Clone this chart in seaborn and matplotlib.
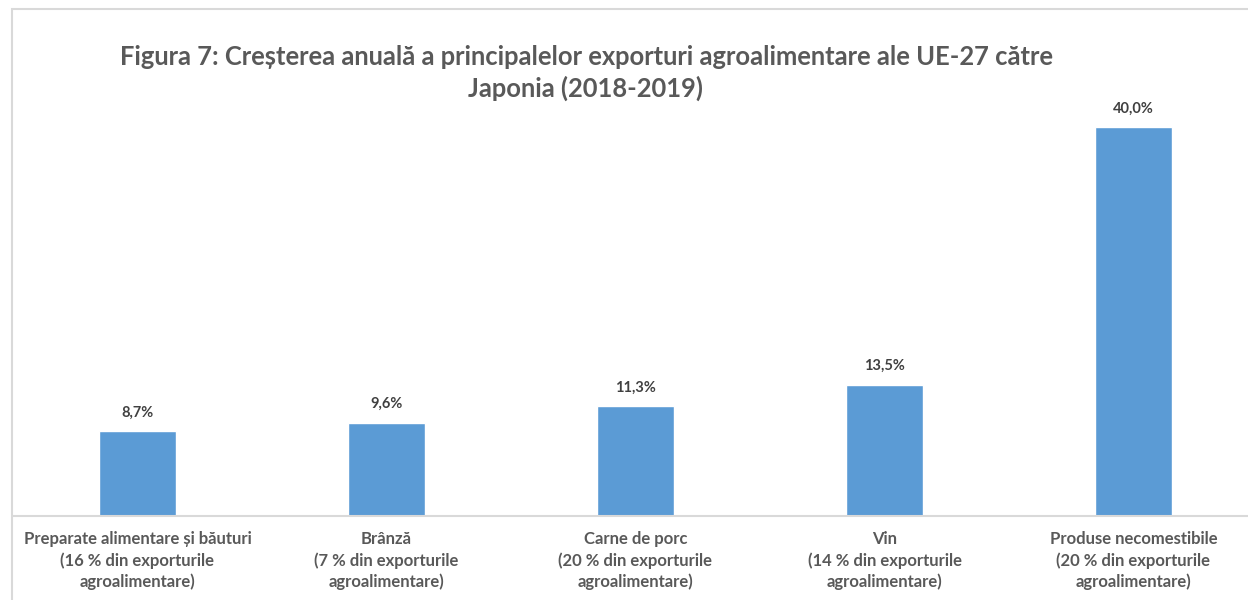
import matplotlib
matplotlib.use("Agg")
import matplotlib.pyplot as plt
import seaborn as sns
import pandas as pd
from matplotlib.patches import Rectangle

# data
categories = [
    "Preparate alimentare și băuturi\n(16 % din exporturile\nagroalimentare)",
    "Brânză\n(7 % din exporturile\nagroalimentare)",
    "Carne de porc\n(20 % din exporturile\nagroalimentare)",
    "Vin\n(14 % din exporturile\nagroalimentare)",
    "Produse necomestibile\n(20 % din exporturile\nagroalimentare)",
]
growth = [8.7, 9.6, 11.3, 13.5, 40.0]

df = pd.DataFrame({"categorie": categories, "crestere": growth})

sns.set_theme(style="white")
plt.rcParams["font.family"] = ["Lato", "DejaVu Sans"]

W, H = 1248, 600
fig = plt.figure(figsize=(W / 100, H / 100), dpi=100)

# chart frame (cut off on the right and bottom like the original)
fig.patches.append(Rectangle((12 / W, -0.05), 1.1, 1 - 9 / H + 0.05,
                             transform=fig.transFigure, fill=False,
                             edgecolor="#D9D9D9", linewidth=1.5))

ymax = 45
ax = fig.add_axes([13 / W, 84 / H, 1245 / W, ymax * 9.725 / H])
sns.barplot(data=df, x="categorie", y="crestere", color="#5B9BD5",
            width=0.31, saturation=1, ax=ax)
ax.set_ylim(0, ymax)
ax.set_xlim(-0.5, len(categories) - 0.5)

for i, v in enumerate(growth):
    ax.text(i, v + 1.2, f"{v:.1f}%".replace(".", ","), ha="center", va="bottom",
            fontsize=10.5, fontweight="bold", color="#404040")

ax.set_xlabel("")
ax.set_ylabel("")
ax.set_yticks([])
ax.set_xticks(range(len(categories)), labels=categories, fontsize=12,
              fontweight="bold", color="#595959", linespacing=1.35)
ax.tick_params(axis="x", length=0, pad=11)

for side in ["top", "right", "left"]:
    ax.spines[side].set_visible(False)
ax.spines["bottom"].set_color("#D9D9D9")
ax.spines["bottom"].set_linewidth(1.5)

fig.text(586 / W, 1 - 73 / H,
         "Figura 7: Creșterea anuală a principalelor exporturi agroalimentare ale UE-27 către\nJaponia (2018-2019)",
         ha="center", va="center", fontsize=18.4, fontweight="bold", color="#595959",
         linespacing=1.3)

fig.savefig("out.png", dpi=100)
